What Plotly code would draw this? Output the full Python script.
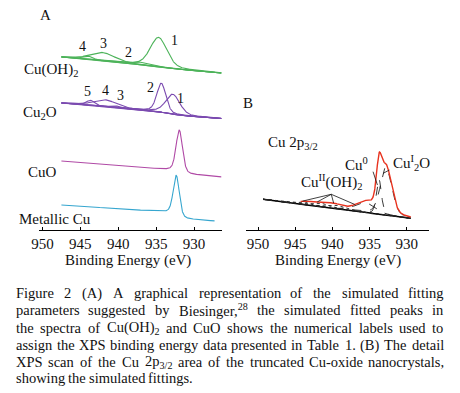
import re
import numpy as np
import plotly.graph_objects as go

FONT = "Liberation Serif, Times New Roman, serif"
W_PX, H_PX = 460, 393
AXIS_PX = 229.5  # pixel row of both energy axes

# ---------------- data ----------------
energy_ticks = [950, 945, 940, 935, 930]
tick_labels = ["950", "945", "940", "935", "930"]

# Panel A : simulated spectra (energy span, background ends, Shirley step, peaks)
cuoh2_span = [947.5, 926.4]
cuoh2_bg = [172.5, 156.5]
cuoh2_step = 2.0
cuoh2_centers = [934.68, 937.4, 942.08, 944.03]
cuoh2_heights = [29.5, 2.5, 8.5, 3.5]
cuoh2_fwhm = [2.6, 2.5, 3.8, 1.6]
cuoh2_labels = ["1", "2", "3", "4"]
cuoh2_label_x = [932.6, 938.66, 941.99, 944.71]
cuoh2_label_y = [188.8, 177.2, 186.2, 182.8]

cu2o_span = [947.5, 926.4]
cu2o_bg = [126.5, 111.0]
cu2o_step = 4.0
cu2o_centers = [932.82, 934.32, 940.39, 941.69, 943.64]
cu2o_heights = [20.0, 29.0, 2.0, 7.0, 5.0]
cu2o_fwhm = [2.2, 1.4, 1.5, 3.5, 1.3]
cu2o_labels = ["1", "2", "3", "4", "5"]
cu2o_label_x = [931.73, 935.71, 939.74, 941.69, 944.06]
cu2o_label_y = [131.2, 142.2, 134.5, 138.8, 137.8]

cuo_span = [947.5, 926.4]
cuo_bg = [68.5, 52.5]
cuo_step = 3.0
cuo_centers = [931.95]
cuo_heights = [42.0]
cuo_fwhm = [1.0]

cu_span = [947.5, 927.3]
cu_bg = [24.5, 8.5]
cu_step = 6.0
cu_centers = [932.34]
cu_heights = [40.0]
cu_fwhm = [0.95]

# Panel B : Cu 2p3/2 fit of the nanocrystals
b_span = [949.34, 929.47]
b_bg = [30.2, 11.2]
b_data_start = 944.3
b_sat_centers = [943.8, 941.6, 939.6]
b_sat_heights = [2.5, 3.5, 3.5]
b_sat_fwhm = [2.0, 2.8, 2.5]
b_main_names = ["Cu(OH)2", "Cu0", "Cu2O"]
b_main_centers = [935.6, 933.75, 932.8]
b_main_heights = [10.0, 35.0, 48.0]
b_main_fwhm = [3.0, 0.8, 1.8]
b_oh_pointer_E = [944.04, 942.05, 939.84, 937.0]
b_oh_pointer_tail = [940.16, 35.2]
b_cu0_pointer = [933.95, 934.54, 57.8]     # head E, tail E, tail y
b_cu2o_pointer = [933.2, 932.34, 59.5]

MIX = 0.3

COL_GREEN = "#4db35a"
COL_PURPLE = "#7b4bb0"
COL_MAGENTA = "#b04aa6"
COL_CYAN = "#36a6cf"
COL_RED = "#e8321e"
TXT = "#111111"


def pv(E, c, f, m=MIX):
    d2 = ((E - c) / f) ** 2
    return (1 - m) * np.exp(-4 * np.log(2) * d2) + m / (1 + 4 * d2)


def spectrum(span, bg_ends, step, centers, heights, fwhm, n=700):
    E = np.linspace(span[0], span[1], n)
    comps = [h * pv(E, c, f) for c, h, f in zip(centers, heights, fwhm)]
    total = np.sum(comps, axis=0)
    cum = np.cumsum(total[::-1])[::-1]
    F = cum / cum[0]
    line = (bg_ends[0] - step) + (bg_ends[1] - (bg_ends[0] - step)) * (E - span[0]) / (span[1] - span[0])
    bg = line + step * F
    return E, bg, comps, bg + total


fig = go.Figure()


def add_line(x, y, color, width=1.1, dash="solid", xa="x", ya="y"):
    fig.add_trace(go.Scatter(x=x, y=y, mode="lines", xaxis=xa, yaxis=ya,
                             line=dict(color=color, width=width, dash=dash),
                             hoverinfo="skip", showlegend=False))


# ---- Panel A ----
for span, bgv, st, cs, hs, fs, col, multi in [
    (cuoh2_span, cuoh2_bg, cuoh2_step, cuoh2_centers, cuoh2_heights, cuoh2_fwhm, COL_GREEN, True),
    (cu2o_span, cu2o_bg, cu2o_step, cu2o_centers, cu2o_heights, cu2o_fwhm, COL_PURPLE, True),
    (cuo_span, cuo_bg, cuo_step, cuo_centers, cuo_heights, cuo_fwhm, COL_MAGENTA, False),
    (cu_span, cu_bg, cu_step, cu_centers, cu_heights, cu_fwhm, COL_CYAN, False),
]:
    E, bg, comps, env = spectrum(span, bgv, st, cs, hs, fs)
    if multi:
        add_line(E, bg, col)
        for c in comps:
            add_line(E, bg + c, col)
    else:
        add_line(E, env, col)

# ---- Panel B ----
allc = b_sat_centers + b_main_centers
allh = b_sat_heights + b_main_heights
allf = b_sat_fwhm + b_main_fwhm
E_b, bg_b, comps_b, env_b = spectrum(b_span, b_bg, 0.0, allc, allh, allf)
add_line(E_b, bg_b, "#000000", width=1.5, xa="x2", ya="y2")
nsat = len(b_sat_centers)
for i, c in enumerate(comps_b):
    add_line(E_b, bg_b + c, "#222222", width=0.9, dash="dot" if i < nsat else "dash", xa="x2", ya="y2")
mask = E_b <= b_data_start
add_line(E_b[mask], env_b[mask], COL_RED, width=1.4, xa="x2", ya="y2")


def leader(hx, curve, tx, ty):
    hy = float(np.interp(hx, E_b[::-1], curve[::-1]))
    add_line([tx, hx], [ty, hy], "#111111", width=0.8, xa="x2", ya="y2")


for e in b_oh_pointer_E:
    leader(e, env_b, b_oh_pointer_tail[0], b_oh_pointer_tail[1])
leader(b_cu0_pointer[0], bg_b + comps_b[nsat + 1], b_cu0_pointer[1], b_cu0_pointer[2])
leader(b_cu2o_pointer[0], bg_b + comps_b[nsat + 2], b_cu2o_pointer[1], b_cu2o_pointer[2])

# ---------------- layout ----------------
ydom = [1 - AXIS_PX / H_PX, 1]
axis_common = dict(showline=True, linecolor="#000000", linewidth=1, ticks="inside", ticklen=3,
                   tickcolor="#000000", tickvals=energy_ticks, ticktext=tick_labels,
                   tickfont=dict(family=FONT, size=15, color=TXT), showgrid=False, zeroline=False,
                   fixedrange=True)
fig.update_layout(
    width=W_PX, height=H_PX, margin=dict(l=0, r=0, t=0, b=0),
    paper_bgcolor="white", plot_bgcolor="white", showlegend=False,
    font=dict(family=FONT, size=15, color=TXT),
    xaxis=dict(domain=[32 / W_PX, 218 / W_PX], range=[950.52, 926.36], anchor="y", **axis_common),
    yaxis=dict(domain=ydom, range=[0, AXIS_PX], visible=False, fixedrange=True),
    xaxis2=dict(domain=[243 / W_PX, 429 / W_PX], range=[951.59, 926.95], anchor="y2", **axis_common),
    yaxis2=dict(domain=ydom, range=[0, AXIS_PX], visible=False, anchor="x2", fixedrange=True),
)

ann = []


def ptext(text, x, y, size=15, xanchor="center"):
    ann.append(dict(text=text, x=x / W_PX, y=1 - y / H_PX, xref="paper", yref="paper",
                    xanchor=xanchor, yanchor="middle", showarrow=False, borderpad=0,
                    font=dict(family=FONT, size=size, color=TXT)))


def dtext(text, x, y, xr="x", yr="y", size=14):
    ann.append(dict(text=text, x=x, y=y, xref=xr, yref=yr, xanchor="center", yanchor="middle",
                    showarrow=False, borderpad=0, font=dict(family=FONT, size=size, color=TXT)))


# Panel A texts
ptext("A", 39.5, 15)
ptext("Cu(OH)<sub>2</sub>", 16, 70, xanchor="left")
ptext("Cu<sub>2</sub>O", 15, 113, xanchor="left")
ptext("CuO", 20, 172, xanchor="left")
ptext("Metallic Cu", 11, 219, xanchor="left")
for t, x, y in zip(cuoh2_labels, cuoh2_label_x, cuoh2_label_y):
    dtext(t, x, y)
for t, x, y in zip(cu2o_labels, cu2o_label_x, cu2o_label_y):
    dtext(t, x, y)
ptext("Binding Energy (eV)", 123, 260)

# Panel B texts
ptext("B", 245, 103)
ptext("Cu 2p<sub>3/2</sub>", 290, 143)
ptext("Cu<sup>0</sup>", 355, 164)
ptext("Cu<sup>I</sup><sub>2</sub>O", 411, 163)
ptext("Cu<sup>II</sup>(OH)<sub>2</sub>", 330, 182)
ptext("Binding Energy (eV)", 336, 260)

# ---------------- caption (justified) ----------------
caption_lines = [
    "Figure 2 (A) A graphical representation of the simulated fitting",
    "parameters suggested by Biesinger,<sup>28</sup> the simulated fitted peaks in",
    "the spectra of Cu(OH)<sub>2</sub> and CuO shows the numerical labels used to",
    "assign the XPS binding energy data presented in Table 1. (B) The detail",
    "XPS scan of the Cu 2p<sub>3/2</sub> area of the truncated Cu-oxide nanocrystals,",
    "showing the simulated fittings.",
]
caption_y = [293, 310, 327.5, 345, 361.5, 378]
CAP_L, CAP_R, CAP_FS = 8, 442, 14.5

TW = {' ': 250, '(': 333, ')': 333, ',': 250, '-': 333, '.': 250, '/': 278, ':': 278,
      'A': 722, 'B': 667, 'C': 667, 'D': 722, 'E': 611, 'F': 556, 'G': 722, 'H': 722, 'I': 333,
      'J': 389, 'K': 722, 'L': 611, 'M': 889, 'N': 722, 'O': 722, 'P': 556, 'Q': 722, 'R': 667,
      'S': 556, 'T': 611, 'U': 722, 'V': 722, 'W': 944, 'X': 722, 'Y': 722, 'Z': 611,
      'a': 444, 'b': 500, 'c': 444, 'd': 500, 'e': 444, 'f': 333, 'g': 500, 'h': 500, 'i': 278,
      'j': 278, 'k': 500, 'l': 278, 'm': 778, 'n': 500, 'o': 500, 'p': 500, 'q': 500, 'r': 333,
      's': 389, 't': 278, 'u': 500, 'v': 500, 'w': 722, 'x': 500, 'y': 500, 'z': 444}


def text_width(s, size):
    tot = 0.0
    for m in re.finditer(r'<(sup|sub)>(.*?)</\1>|([^<]+)', s):
        if m.group(3):
            tot += sum(TW.get(ch, 500) for ch in m.group(3))
        else:
            tot += 0.7 * sum(TW.get(ch, 500) for ch in m.group(2))
    return tot * size / 1000.0


for i, (line, yc) in enumerate(zip(caption_lines, caption_y)):
    words = line.split(" ")
    widths = [text_width(w, CAP_FS) for w in words]
    if i < len(caption_lines) - 1:
        gap = (CAP_R - CAP_L - sum(widths)) / (len(words) - 1)
    else:
        gap = 0.25 * CAP_FS
    x = CAP_L
    for w, wd in zip(words, widths):
        ptext(w, x, yc, size=CAP_FS, xanchor="left")
        x += wd + gap

fig.update_layout(annotations=ann)
fig.write_html("out.html", config={"displayModeBar": False, "staticPlot": True},
               post_script="document.body.style.margin='0px';")
